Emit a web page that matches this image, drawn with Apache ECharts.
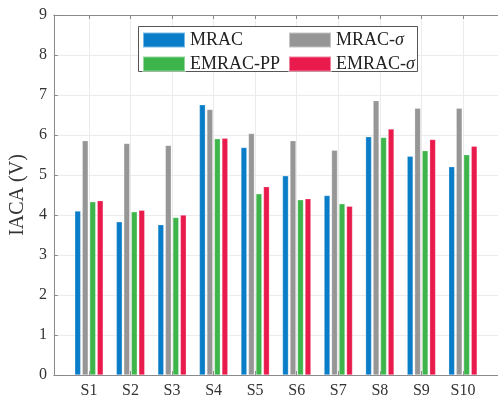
<!DOCTYPE html>
<html>
<head>
<meta charset="utf-8">
<script src="https://cdn.jsdelivr.net/npm/echarts@6/dist/echarts.min.js"></script>
<style>
html,body{margin:0;padding:0;background:#fff;}
#main{width:498px;height:399px;}
</style>
</head>
<body>
<div id="main"></div>
<script>
const categories = ['S1','S2','S3','S4','S5','S6','S7','S8','S9','S10'];
const seriesNames = ['MRAC','MRAC-σ','EMRAC-PP','EMRAC-σ'];
const mrac     = [4.10, 3.83, 3.76, 6.76, 5.69, 4.98, 4.49, 5.96, 5.47, 5.21];
const mracSig  = [5.86, 5.79, 5.74, 6.64, 6.04, 5.86, 5.62, 6.86, 6.67, 6.67];
const emracPP  = [4.33, 4.08, 3.94, 5.91, 4.53, 4.38, 4.28, 5.94, 5.61, 5.51];
const emracSig = [4.36, 4.12, 4.00, 5.92, 4.71, 4.41, 4.22, 6.15, 5.89, 5.72];
const yTicks = [0,1,2,3,4,5,6,7,8,9];

const colors = ['#0A7DC9', '#969696', '#3DB54B', '#E81B4C'];
const allVals = [mrac, mracSig, emracPP, emracSig];
const xPos = categories.map((c, i) => i + 1);

const font = '"Liberation Serif", "Times New Roman", serif';
const chart = echarts.init(document.getElementById('main'));

function legendFmt(name) {
  const parts = name.split('σ');
  return parts.length > 1 ? '{n|' + parts[0] + '}{i|σ}' : '{n|' + name + '}';
}
const legendText = {
  fontFamily: font, fontSize: 18, color: '#222', lineHeight: 15,
  rich: {
    n: { fontFamily: font, fontSize: 18, color: '#222', lineHeight: 15 },
    i: { fontFamily: font, fontSize: 18, fontStyle: 'italic', color: '#222', lineHeight: 15 }
  }
};

chart.setOption({
  animation: false,
  backgroundColor: '#fff',
  textStyle: { fontFamily: font },
  grid: { left: 50, top: 15, width: 456, height: 360, containLabel: false },
  xAxis: [{
    type: 'value', min: 0.156, max: 10.844, position: 'bottom',
    axisLine: { show: true, lineStyle: { color: '#8a8a8a', width: 1 } },
    axisTick: { show: true, inside: true, length: 4, customValues: xPos, lineStyle: { color: '#8a8a8a' } },
    axisLabel: { customValues: xPos, formatter: v => categories[Math.round(v) - 1] || '',
      fontFamily: font, fontSize: 16, color: '#333', margin: 8 },
    splitLine: { show: true, lineStyle: { color: '#ebebeb', width: 1 } }
  }, {
    type: 'value', min: 0.156, max: 10.844, position: 'top',
    axisLine: { show: true, onZero: false, lineStyle: { color: '#8a8a8a', width: 1 } },
    axisTick: { show: true, inside: true, length: 4, customValues: xPos, lineStyle: { color: '#8a8a8a' } },
    axisLabel: { show: false },
    splitLine: { show: false }
  }],
  yAxis: {
    type: 'value', min: 0, max: 9, interval: 1,
    name: 'IACA (V)', nameLocation: 'middle', nameGap: 18, nameRotate: 90,
    nameTextStyle: { fontFamily: font, fontSize: 20, color: '#333' },
    axisLine: { show: true, lineStyle: { color: '#8a8a8a', width: 1 } },
    axisTick: { show: true, inside: true, length: 4, lineStyle: { color: '#8a8a8a' } },
    axisLabel: { fontFamily: font, fontSize: 16, color: '#333', margin: 7,
      formatter: v => yTicks.includes(v) ? String(v) : '' },
    splitLine: { show: true, lineStyle: { color: '#ebebeb', width: 1 } }
  },
  graphic: [{
    type: 'rect', z: 5,
    shape: { x: 138.5, y: 26.5, width: 279, height: 45 },
    style: { fill: '#fff', stroke: '#555', lineWidth: 1 }
  }],
  legend: [{
    data: ['MRAC', 'EMRAC-PP'], orient: 'vertical', left: 142, top: 31, padding: 0,
    itemWidth: 42, itemHeight: 15, itemGap: 6, z: 10,
    icon: 'rect', formatter: legendFmt, textStyle: legendText
  }, {
    data: ['MRAC-σ', 'EMRAC-σ'], orient: 'vertical', left: 288, top: 31, padding: 0,
    itemWidth: 42, itemHeight: 15, itemGap: 6, z: 10,
    icon: 'rect', formatter: legendFmt, textStyle: legendText
  }],
  series: seriesNames.map((n, k) => ({
    name: n, type: 'bar', xAxisIndex: 0,
    barWidth: 6, barGap: '25%',
    itemStyle: { color: colors[k], borderColor: 'rgba(255,255,255,0.45)', borderWidth: 0.6 },
    data: xPos.map((x, i) => [x, allVals[k][i]])
  }))
});
</script>
</body>
</html>
